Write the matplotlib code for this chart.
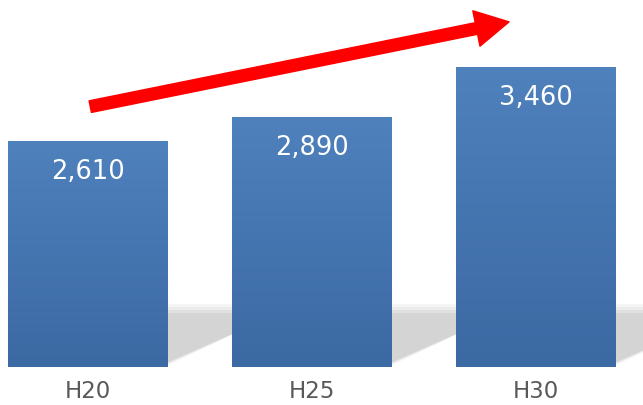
import matplotlib
matplotlib.use("Agg")
import matplotlib.pyplot as plt
import numpy as np
from matplotlib.patches import Polygon
from matplotlib.colors import LinearSegmentedColormap

categories = ["H20", "H25", "H30"]
values = [2610, 2890, 3460]

plt.rcParams['font.family'] = ['DejaVu Sans']

fig = plt.figure(figsize=(6.43, 4.05), dpi=100)
ax = fig.add_axes([0, 0.094, 1, 0.906])
ax.set_xlim(-0.393, 2.478)
ax.set_ylim(0, 4243)
ax.axis("off")

x = np.arange(len(categories))
width = 0.714
bars = ax.bar(x, values, width=width, color="none", zorder=3)

# vertical gradient on each bar
cmap = LinearSegmentedColormap.from_list("bar", ["#3B69A2", "#4F81BD"])
grad = np.linspace(0, 1, 256).reshape(-1, 1)
for b in bars:
    x0, w, h = b.get_x(), b.get_width(), b.get_height()
    ax.imshow(grad, cmap=cmap, origin="lower", aspect="auto",
              extent=(x0, x0 + w, 0, h), zorder=3)

# soft floor shadow to the right of each bar (px -> data: 224 px per unit, 11.56 per px)
px_x = 1 / 224
px_y = 11.56
for b in bars:
    r = b.get_x() + b.get_width()
    for k, a in [(0, 0.08), (3, 0.08), (6, 0.10), (9, 0.12)]:
        pts = [(r, (2 + k * 0.3) * px_y),
               (r, (63 - k) * px_y),
               (r + (130 - 2 * k) * px_x, (63 - k) * px_y)]
        ax.add_patch(Polygon(pts, closed=True, facecolor="#808080",
                             edgecolor="none", alpha=a, zorder=1))

# value labels
for b, v in zip(bars, values):
    ax.annotate(f"{v:,}", (b.get_x() + b.get_width() / 2, v),
                xytext=(0, -22), textcoords="offset points",
                ha="center", va="center", color="white", fontsize=18.5, zorder=5)

# category labels
for xi, c in zip(x, categories):
    ax.annotate(c, (xi, 0), xytext=(0, -18), textcoords="offset points",
                ha="center", va="center", color="#595959", fontsize=16.5,
                annotation_clip=False)

# red trend arrow
ax.annotate("", xy=(1.88, 3990), xytext=(0.01, 3010),
            arrowprops=dict(arrowstyle="simple,head_length=2.4,head_width=2.6,tail_width=0.85",
                            mutation_scale=10, color="#FF0000", shrinkA=0, shrinkB=0),
            zorder=6)

fig.savefig("out.png", dpi=100)
